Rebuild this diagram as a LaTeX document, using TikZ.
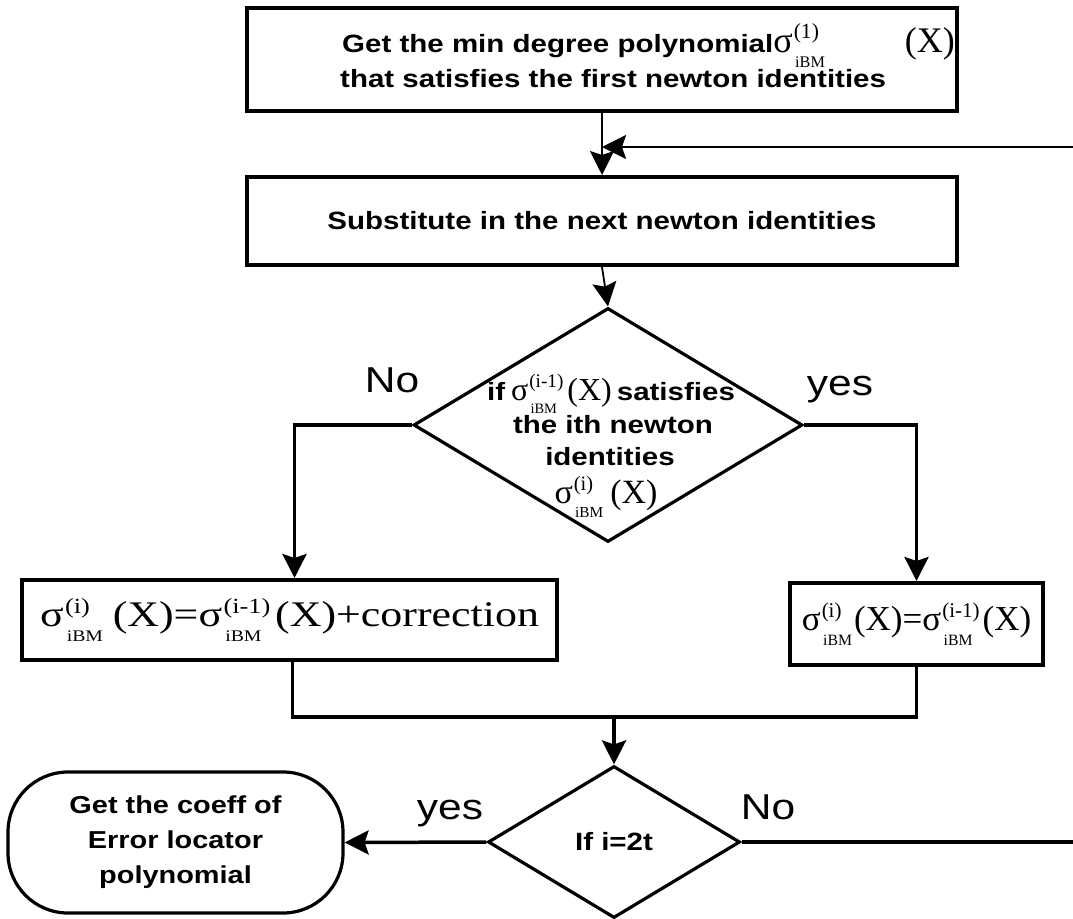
\documentclass[tikz,border=0pt]{standalone}
\usepackage{fontspec}
\usepackage{graphicx}
\usetikzlibrary{arrows.meta,shapes.geometric}
\newfontfamily\hv{Liberation Sans}[FakeStretch=1.18]
\newfontfamily\tnr{Liberation Serif}
\newcommand\fs[1]{\fontsize{#1}{#1}\selectfont}
% upright serif formula text at a given size
\newcommand\eq[2]{{\tnr\mdseries\fs{#1}#2}}
\newsavebox\supbox
\newsavebox\subbox
% sigma with a superscript stacked over the iBM subscript
\newcommand\sgm[1]{{\tnr σ}\kern.03em
  \sbox\supbox{\tnr\raisebox{.38em}{\scalebox{.6}{#1}}}%
  \sbox\subbox{\tnr\kern.04em\raisebox{-.42em}{\scalebox{.45}{iBM}}}%
  \rlap{\usebox\supbox}\rlap{\usebox\subbox}%
  \ifdim\wd\supbox>\wd\subbox\kern\wd\supbox\else\kern\wd\subbox\fi}
\begin{document}
\begin{tikzpicture}[x=1pt,y=-1pt,
  box/.style={draw, rectangle, inner sep=0pt, line width=4pt},
  diam/.style={draw, diamond, inner sep=0pt, line width=3.2pt},
  bold/.style={font=\hv\bfseries\fs{25}},
  txt/.style={bold, anchor=base, inner sep=0pt},
  lbl/.style={font=\hv\fs{36}, anchor=base, inner sep=0pt},
  conn/.style={line width=3.5pt},
  tip/.style={-{Stealth[length=24pt,width=24pt,inset=4pt]}},
]
\useasboundingbox (0,0) rectangle (1073,918);

% process boxes
\node[box, line width=4.5pt, minimum width=710pt, minimum height=103pt] (box1) at (602,59.5) {};
\node[txt, anchor=base west] (t1a) at (342,52) {Get the min degree polynomial\eq{36}{\sgm{(1)}}};
\node[txt, anchor=base east] (t1x) at (955,52) {\eq{36}{(X)}};
\node[txt, anchor=base west] (t1b) at (340,87) {that satisfies the first newton identities};

\node[box, bold, minimum width=710pt, minimum height=88pt] (box2) at (602,221) {Substitute in the next newton identities};

% first decision
\node[diam, minimum width=389pt, minimum height=234pt] (d1) at (608,425) {};
\node[txt] (d1a) at (611,400) {if\eq{32}{\kern6pt\sgm{(i-1)}\kern4pt(X)}\kern5pt satisfies};
\node[txt] (d1b) at (613,433) {the ith newton};
\node[txt] (d1c) at (610,465) {identities};
\node[txt] (d1d) at (606,503) {\eq{34}{\sgm{(i)}\kern7pt(X)}};

\node[box, minimum width=535pt, minimum height=80pt, font=\tnr\fs{36}] (lbox) at (289.5,620)
  {\scalebox{1.22}[1]{\sgm{(i)}\kern8pt(X)=\sgm{(i-1)}\kern4pt(X)+correction}};
\node[box, minimum width=253pt, minimum height=82pt, font=\tnr\fs{35}] (rbox) at (916.5,624)
  {\sgm{(i)}\kern2pt(X)=\sgm{(i-1)}\kern3pt(X)};

% second decision and terminal
\node[diam, bold, minimum width=252pt, minimum height=152pt] (d2) at (614,842) {If i=2t};
\node[draw, rectangle, rounded corners=60pt, line width=3.2pt, inner sep=0pt,
  minimum width=335pt, minimum height=141pt, align=center,
  font=\hv\bfseries\fontsize{24.5}{35}\selectfont] (done) at (175.5,842.5)
  {Get the coeff of\\Error locator\\polynomial};

% free ends of the loop and the merge point
\coordinate (loopin) at (1073,147);
\coordinate (loopout) at (1073,842);
\coordinate (merge) at (614,717);

% connectors
\draw[line width=1.8pt, tip] (box1.south) -- (box2.north);
\draw[line width=2.5pt, tip] (loopin) -- (loopin -| box1.south);
\draw[line width=1.8pt, tip] (box2.south) -- (d1.north);
\draw[conn, tip] (d1.west) -| ([xshift=5pt]lbox.north);
\draw[conn, tip] (d1.east) -| (rbox.north);
\draw[conn] ([xshift=3pt]lbox.south) |- (merge) -| (rbox.south);
\draw[conn, tip] (merge) -- (d2.north);
\draw[conn, tip] (d2.west) -- (done.east);
\draw[conn] (d2.east) -- (loopout);

% branch labels
\node[lbl] (no1) at (392,392) {No};
\node[lbl] (yes1) at (840,395) {yes};
\node[lbl] (yes2) at (450,819) {yes};
\node[lbl] (no2) at (768,819) {No};
\end{tikzpicture}
\end{document}
